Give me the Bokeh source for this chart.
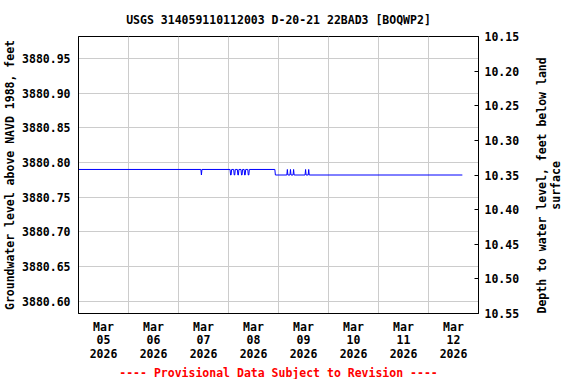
import datetime as dt
from math import pi
from bokeh.plotting import figure
from bokeh.layouts import row
from bokeh.models import (Range1d, LinearAxis, FixedTicker, Label, Title,
                          PrintfTickFormatter)
from bokeh.embed import file_html
from bokeh.resources import INLINE

# ---------------- data ----------------
title_text = "USGS 314059110112003 D-20-21 22BAD3 [BOQWP2]"
left_label = "Groundwater level above NAVD 1988, feet"
right_label_lines = ["Depth to water level, feet below land", "surface"]
caption = "---- Provisional Data Subject to Revision ----"

U = 3880.790
D = 3880.782
times = [
    "2026-03-05 00:00", "2026-03-07 10:45", "2026-03-07 11:00", "2026-03-07 11:15",
    "2026-03-08 00:45", "2026-03-08 01:00", "2026-03-08 01:15", "2026-03-08 01:30",
    "2026-03-08 02:30", "2026-03-08 02:45", "2026-03-08 03:00", "2026-03-08 03:15",
    "2026-03-08 04:15", "2026-03-08 04:30", "2026-03-08 04:45", "2026-03-08 05:00",
    "2026-03-08 06:00", "2026-03-08 06:15", "2026-03-08 06:30", "2026-03-08 06:45",
    "2026-03-08 07:30", "2026-03-08 07:45", "2026-03-08 08:00", "2026-03-08 08:15",
    "2026-03-08 09:15", "2026-03-08 09:30", "2026-03-08 09:45", "2026-03-08 10:00",
    "2026-03-08 22:15", "2026-03-08 22:30",
    "2026-03-09 04:00", "2026-03-09 04:15", "2026-03-09 04:30",
    "2026-03-09 05:30", "2026-03-09 05:45", "2026-03-09 06:00",
    "2026-03-09 07:00", "2026-03-09 07:15", "2026-03-09 07:30",
    "2026-03-09 12:45", "2026-03-09 13:00", "2026-03-09 13:15",
    "2026-03-09 14:15", "2026-03-09 14:30", "2026-03-09 14:45",
    "2026-03-12 16:15",
]
levels = [
    U, U, D, U,
    U, D, D, U,
    U, D, D, U,
    U, D, D, U,
    U, D, D, U,
    U, D, D, U,
    U, D, D, U,
    U, D,
    D, U, D,
    D, U, D,
    D, U, D,
    D, U, D,
    D, U, D,
    D,
]

x_start = "2026-03-05 00:00"
x_end = "2026-03-13 00:00"
day_bounds = ["2026-03-06 00:00", "2026-03-07 00:00", "2026-03-08 00:00", "2026-03-09 00:00",
              "2026-03-10 00:00", "2026-03-11 00:00", "2026-03-12 00:00"]
label_times = ["2026-03-05 12:00", "2026-03-06 12:00", "2026-03-07 12:00", "2026-03-08 12:00",
               "2026-03-09 12:00", "2026-03-10 12:00", "2026-03-11 12:00", "2026-03-12 12:00"]
x_tick_labels = ["Mar\n05\n2026", "Mar\n06\n2026", "Mar\n07\n2026", "Mar\n08\n2026",
                 "Mar\n09\n2026", "Mar\n10\n2026", "Mar\n11\n2026", "Mar\n12\n2026"]

y_range_left = (3880.582, 3880.982)
left_ticks = [3880.60, 3880.65, 3880.70, 3880.75, 3880.80, 3880.85, 3880.90, 3880.95]
y_range_right = (10.55, 10.15)
right_ticks = [10.15, 10.20, 10.25, 10.30, 10.35, 10.40, 10.45, 10.50, 10.55]

# ---------------- plot ----------------
FONT = "DejaVu Sans Mono"
FS = "11.5px"


def ms(s):
    return dt.datetime.strptime(s, "%Y-%m-%d %H:%M").replace(tzinfo=dt.timezone.utc).timestamp() * 1000


props = LinearAxis.properties()
has_orient = "axis_label_orientation" in props and "axis_label_align" in props
right_border = 89 if has_orient else 57

p = figure(frame_width=400, frame_height=277, x_axis_type="datetime", output_backend="svg",
           toolbar_location=None,
           x_range=Range1d(ms(x_start), ms(x_end)),
           y_range=Range1d(*y_range_left),
           min_border_left=72, min_border_right=right_border, min_border_top=5,
           min_border_bottom=5)
p.extra_y_ranges = {"depth": Range1d(*y_range_right)}

p.line([ms(t) for t in times], levels, color="#0000ff", line_width=1)

p.background_fill_color = "white"
p.border_fill_color = "white"
p.outline_line_color = "black"
p.outline_line_alpha = 1

# grids
p.xgrid.ticker = FixedTicker(ticks=[ms(t) for t in day_bounds])
p.ygrid.ticker = FixedTicker(ticks=left_ticks)
for g in (p.xgrid, p.ygrid):
    g.grid_line_color = "#cccccc"
    g.grid_line_width = 1

# x axis
xa = p.xaxis[0]
label_ms = [ms(t) for t in label_times]
xa.ticker = FixedTicker(ticks=label_ms)
xa.major_label_overrides = {v: lab for v, lab in zip(label_ms, x_tick_labels)}
xa.major_tick_in = 0
xa.major_tick_out = 0
xa.minor_tick_line_color = None
xa.major_label_standoff = 6
xa.major_label_text_line_height = 0.97

# left axis
ya = p.yaxis[0]
ya.ticker = FixedTicker(ticks=left_ticks)
ya.formatter = PrintfTickFormatter(format="%.2f")
ya.major_tick_in = 0
ya.major_tick_out = 0
ya.minor_tick_line_color = None
ya.major_label_standoff = 8
ya.axis_label = left_label
ya.axis_label_standoff = 2

# right axis
ra = LinearAxis(y_range_name="depth", ticker=FixedTicker(ticks=right_ticks),
                formatter=PrintfTickFormatter(format="%.2f"))
ra.major_tick_in = 4
ra.major_tick_out = 0
ra.minor_tick_line_color = None
ra.major_label_standoff = 6
if has_orient:
    # text is anchored at its start, so centre the short second line with
    # (non-collapsing) spaces in this monospace font
    first, second = right_label_lines
    pad = "\u00a0" * ((len(first) - len(second)) // 2)
    ra.axis_label = first + "\n" + pad + second
    ra.axis_label_orientation = pi / 2
    ra.axis_label_align = "end"
    ra.axis_label_standoff = 27
    ra.axis_label_text_line_height = 1.0
p.add_layout(ra, "right")

for ax in (xa, ya, ra):
    ax.axis_line_color = "black"
    ax.major_tick_line_color = "black"
    ax.major_label_text_font = FONT
    ax.major_label_text_font_size = FS
    ax.major_label_text_font_style = "bold"
    ax.major_label_text_color = "black"
    ax.axis_label_text_font = FONT
    ax.axis_label_text_font_size = FS
    ax.axis_label_text_font_style = "bold"
    ax.axis_label_text_color = "black"

# title
p.title.text = title_text
p.title.align = "center"
p.title.text_font = FONT
p.title.text_font_size = FS
p.title.text_font_style = "bold"
p.title.text_color = "black"
p.title.standoff = 20

# caption
p.add_layout(Title(text=caption, align="center", text_color="red", text_font=FONT,
                   text_font_size=FS, text_font_style="bold", standoff=0), "below")

if has_orient:
    root = p
else:
    # narrow companion figure holding the right-hand axis title (reads bottom to top)
    q = figure(width=32, height=368, output_backend="svg", toolbar_location=None, title=None,
               x_range=Range1d(0, 32), y_range=Range1d(0, 368),
               x_axis_location=None, y_axis_location=None,
               min_border=0, min_border_left=0, min_border_right=0,
               min_border_top=0, min_border_bottom=0)
    q.outline_line_color = None
    q.xgrid.visible = False
    q.ygrid.visible = False
    q.background_fill_color = "white"
    q.border_fill_color = "white"
    q.add_layout(Label(x=15, y=201, text="\n".join(right_label_lines), angle=pi / 2,
                       text_align="center", text_baseline="middle", text_font=FONT,
                       text_font_size=FS, text_font_style="bold", text_color="black",
                       text_line_height=1.0))
    root = row(p, q)

open("out.html", "w").write(file_html(root, INLINE))
